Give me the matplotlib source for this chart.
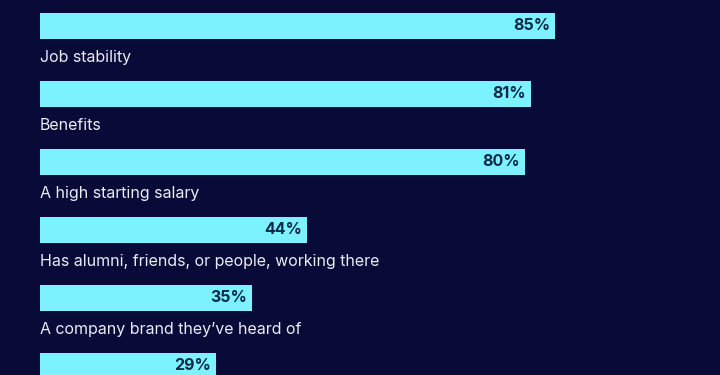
import matplotlib.pyplot as plt

# 数据
labels = ['Job stability', 'Benefits', 'A high starting salary',
          'Has alumni, friends, or people, working there',
          'A company brand they\u2019ve heard of', '']
values = [85, 81, 80, 44, 35, 29]

bg_color = '#080b38'
bar_color = '#7cf1ff'
pct_color = '#0c2a45'
text_color = '#e9ebf5'

plt.rcParams['font.family'] = ['Inter', 'DejaVu Sans']

fig = plt.figure(figsize=(7.2, 3.75), dpi=100, facecolor=bg_color)
ax = fig.add_axes([0, 0, 1, 1])
ax.set_facecolor(bg_color)

px_per_pct = 6.06
row_px = 68.0
ax.set_xlim(-40 / px_per_pct, (720 - 40) / px_per_pct)
ax.set_ylim((375 - 26) / row_px, -26 / row_px)

rows = list(range(len(values)))
ax.barh(rows, values, height=26 / row_px, color=bar_color, edgecolor='none')

for i, (lab, v) in enumerate(zip(labels, values)):
    ax.text(v - 0.8, i, f'{v}%', ha='right', va='center', fontsize=11.5,
            fontweight='bold', color=pct_color)
    ax.text(0, i + 0.46, lab, ha='left', va='center', fontsize=11.5,
            color=text_color)

ax.axis('off')
fig.savefig('out.png', dpi=100, facecolor=bg_color)
